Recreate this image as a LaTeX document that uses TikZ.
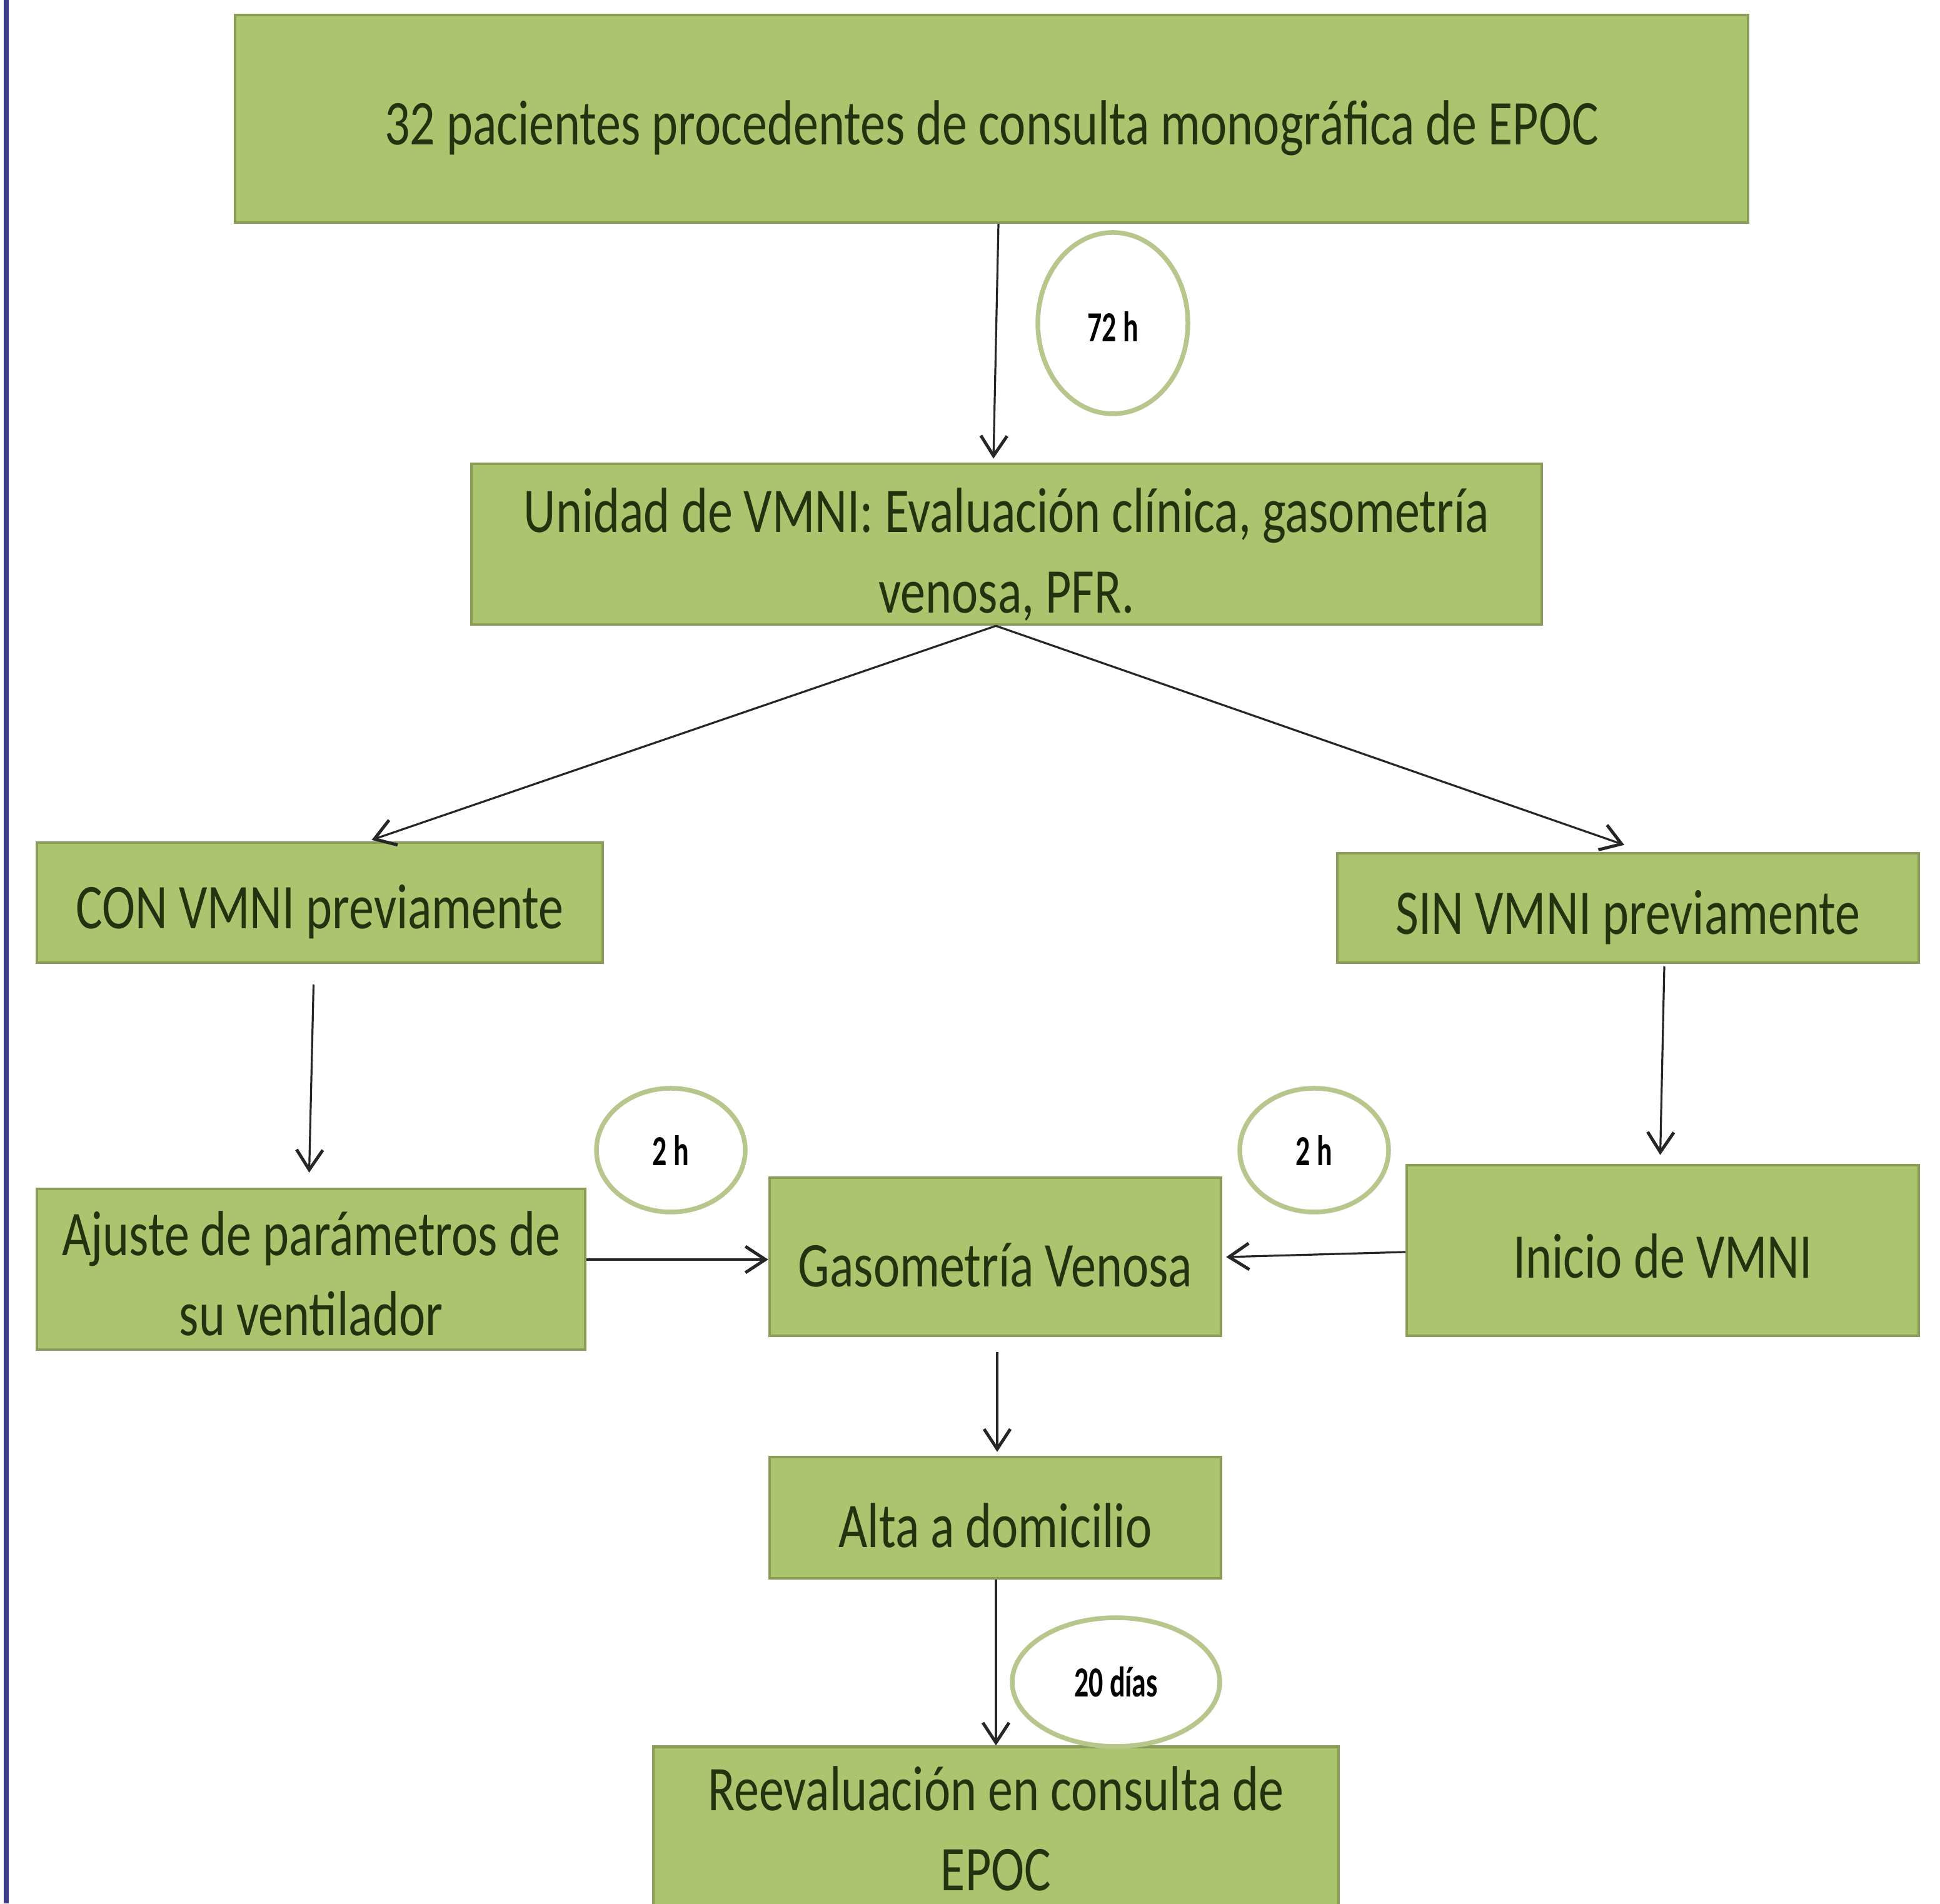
\documentclass[tikz,border=0pt]{standalone}
\usepackage{fontspec}
\setmainfont{Carlito}[FakeStretch=0.785]
\newfontfamily\ellfont{Carlito}[FakeStretch=0.67]
\usetikzlibrary{shapes.geometric,arrows.meta,calc}
\definecolor{boxfill}{HTML}{ABC56F}
\definecolor{boxline}{HTML}{8A9C58}
\definecolor{boxtext}{HTML}{22340F}
\definecolor{ellline}{HTML}{B7C78C}
\definecolor{sideblue}{HTML}{3C3A8A}
\newcommand{\bt}[2][0.14cm]{\raisebox{-#1}[\height][\depth]{\begin{tabular}{@{}c@{}}#2\end{tabular}}}
\tikzset{
  stepbox/.style={draw=boxline, line width=0.045cm, fill=boxfill, text=boxtext,
    inner sep=0pt, font=\fontsize{29}{36.5}\selectfont},
  timeell/.style={ellipse, draw=ellline, line width=0.075cm, fill=white, inner sep=0pt,
    font=\ellfont\bfseries\fontsize{19.5}{20}\selectfont},
  arr/.style={draw=black!85, line width=0.032cm, -{Straight Barb[length=0.32cm,width=0.42cm,line width=0.05cm]}}
}
\begin{document}
\begin{tikzpicture}
\useasboundingbox (0,0) rectangle (31.03,30.45);
\fill[white] (0,0) rectangle (31.03,30.45);
\draw[sideblue, line width=0.08cm] (0.10,0) -- (0.10,30.45);

% boxes
\node[stepbox, minimum width=24.2cm, minimum height=3.32cm] (top) at (15.86,28.55)
  {\bt[0.16cm]{32 pacientes procedentes de consulta monográfica de EPOC}};
\node[stepbox, minimum width=17.12cm, minimum height=2.57cm] (unidad) at (16.10,21.745)
  {\bt[0.20cm]{Unidad de VMNI: Evaluación clínica, gasometría\\venosa, PFR.}};
\node[stepbox, minimum width=9.05cm, minimum height=1.92cm] (con) at (5.115,16.01)
  {\bt[0.16cm]{CON VMNI previamente}};
\node[stepbox, minimum width=9.30cm, minimum height=1.75cm] (sin) at (26.04,15.925)
  {\bt[0.16cm]{SIN VMNI previamente}};
\node[stepbox, minimum width=8.77cm, minimum height=2.53cm] (ajuste) at (4.975,10.145)
  {\bt[0.16cm]{Ajuste de parámetros de\\su ventilador}};
\node[stepbox, minimum width=7.22cm, minimum height=2.53cm] (gaso) at (15.92,10.345)
  {\bt[0.22cm]{Gasometría Venosa}};
\node[stepbox, minimum width=8.19cm, minimum height=2.73cm] (inicio) at (26.595,10.445)
  {\bt[0.18cm]{Inicio de VMNI}};
\node[stepbox, minimum width=7.22cm, minimum height=1.94cm] (alta) at (15.92,6.17)
  {\bt[0.22cm]{Alta a domicilio}};
\node[stepbox, minimum width=10.96cm, minimum height=2.38cm] (reeval) at (15.93,1.22)
  {\bt[0.12cm]{Reevaluación en consulta de\\EPOC}};

% time ellipses
\node[timeell, minimum width=2.40cm, minimum height=2.90cm] (t72) at (17.80,25.28) {\raisebox{-0.05cm}[\height][\depth]{72 h}};
\node[timeell, minimum width=2.38cm, minimum height=1.98cm] (t2a) at (10.73,12.05) {2 h};
\node[timeell, minimum width=2.38cm, minimum height=1.98cm] (t2b) at (21.02,12.05) {2 h};
\node[timeell, minimum width=3.32cm, minimum height=2.06cm] (t20) at (17.85,3.54) {20 días};

% connectors
\draw[arr] ([xshift=0.11cm]top.south) -- ([xshift=-0.21cm,yshift=0.06cm]unidad.north);
\draw[arr] ([xshift=-0.17cm]unidad.south) -- ([xshift=0.83cm,yshift=0.02cm]con.north);
\draw[arr] ([xshift=-0.17cm]unidad.south) -- ([xshift=-0.06cm,yshift=0.11cm]sin.north);
\draw[arr] ([xshift=-0.10cm,yshift=-0.33cm]con.south) -- ([xshift=-0.03cm,yshift=0.24cm]ajuste.north);
\draw[arr] ([xshift=0.58cm,yshift=-0.04cm]sin.south) -- ([xshift=-0.04cm,yshift=0.14cm]inicio.north);
\draw[arr] ([yshift=0.155cm]ajuste.east) -- ([yshift=-0.045cm]gaso.west);
\draw[arr] ([yshift=-0.025cm]inicio.west) -- ([xshift=0.06cm,yshift=-0.005cm]gaso.east);
\draw[arr] ([xshift=0.03cm,yshift=-0.24cm]gaso.south) -- ([xshift=0.03cm,yshift=0.06cm]alta.north);
\draw[arr] ([xshift=0.01cm]alta.south) -- (reeval.north);
\end{tikzpicture}
\end{document}
